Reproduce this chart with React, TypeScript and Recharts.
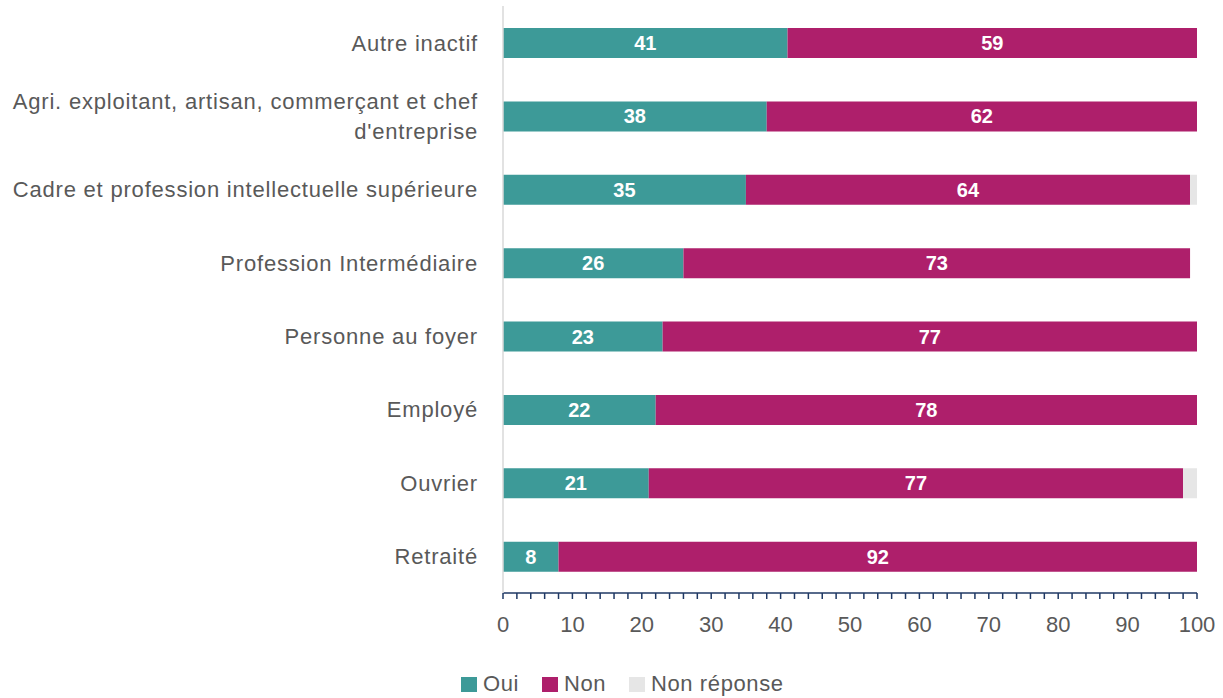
import React from 'react';
import { BarChart, Bar, XAxis, YAxis, Legend, LabelList } from 'recharts';

const categories = [
  'Autre inactif',
  "Agri. exploitant, artisan, commerçant et chef d'entreprise",
  'Cadre et profession intellectuelle supérieure',
  'Profession Intermédiaire',
  'Personne au foyer',
  'Employé',
  'Ouvrier',
  'Retraité',
];
const oui = [41, 38, 35, 26, 23, 22, 21, 8];
const non = [59, 62, 64, 73, 77, 78, 77, 92];
const nonReponse = [0, 0, 1, 0, 0, 0, 2, 0];
const xTicks = Array.from({ length: 51 }, (_, i) => i * 2);

const seriesNames = ['Oui', 'Non', 'Non réponse'];
const seriesColors = ['#3D9A98', '#AE1F6B', '#E6E6E6'];

const data = categories.map((name, i) => ({
  name,
  oui: oui[i],
  non: non[i],
  nr: nonReponse[i],
}));

const FONT = '"Liberation Sans", Arial, sans-serif';

const wrap = (s: string, max = 48) => {
  if (s.length <= max) return [s];
  const cut = s.lastIndexOf(' ', max);
  return [s.slice(0, cut), s.slice(cut + 1)];
};

const CategoryTick = (props: any) => {
  const { x, y, payload } = props;
  const lines = wrap(payload.value);
  const start = -((lines.length - 1) * 30) / 2;
  return (
    <text
      x={x - 25}
      y={y}
      textAnchor="end"
      fill="#595959"
      fontSize={22}
      fontFamily={FONT}
      letterSpacing={0.8}
    >
      {lines.map((l, i) => (
        <tspan key={i} x={x - 25} y={y + start + i * 30} dy="0.36em">
          {l}
        </tspan>
      ))}
    </text>
  );
};

const LegendContent = () => (
  <div style={{ position: 'relative', height: 30, fontFamily: FONT }}>
    {seriesNames.map((n, i) => {
      const left = [461, 542, 629][i];
      return (
        <div
          key={n}
          style={{
            position: 'absolute',
            left,
            top: 8,
            display: 'flex',
            alignItems: 'center',
            fontSize: 22,
            color: '#595959',
            letterSpacing: 0.6,
            lineHeight: '16px',
          }}
        >
          <span style={{ width: 16, height: 15, background: seriesColors[i], marginRight: 6, display: 'inline-block' }} />
          {n}
        </div>
      );
    })}
  </div>
);

const segLabel = (v: any) => (v ? v : '');

export default function App() {
  return (
    <div style={{ position: 'absolute', left: 0, top: 0, background: '#fff' }}>
      <BarChart
        width={1223}
        height={698}
        data={data}
        layout="vertical"
        barSize={30}
        margin={{ top: 6, right: 26, bottom: 0, left: 0 }}
      >
        <XAxis
          type="number"
          domain={[0, 100]}
          ticks={xTicks}
          interval={0}
          height={75}
          tickFormatter={(v: number) => (v % 10 === 0 ? String(v) : '')}
          axisLine={{ stroke: '#1F3864', strokeWidth: 1.5 }}
          tickLine={{ stroke: '#1F3864', strokeWidth: 1.5 }}
          tickSize={6}
          tickMargin={17}
          tick={{ fill: '#595959', fontSize: 22, fontFamily: FONT }}
        />
        <YAxis
          type="category"
          dataKey="name"
          width={503}
          interval={0}
          axisLine={{ stroke: '#D9D9D9', strokeWidth: 1.5 }}
          tickLine={false}
          tickSize={0}
          tickMargin={0}
          tick={<CategoryTick />}
        />
        <Legend
          verticalAlign="bottom"
          content={<LegendContent />}
          wrapperStyle={{ height: 30, left: 0, width: 1223, bottom: 0 }}
        />
        <Bar dataKey="oui" name="Oui" stackId="a" fill={seriesColors[0]} isAnimationActive={false}>
          <LabelList dataKey="oui" position="center" fill="#fff" fontSize={20} fontWeight="bold" fontFamily={FONT} formatter={segLabel} />
        </Bar>
        <Bar dataKey="non" name="Non" stackId="a" fill={seriesColors[1]} isAnimationActive={false}>
          <LabelList dataKey="non" position="center" fill="#fff" fontSize={20} fontWeight="bold" fontFamily={FONT} formatter={segLabel} />
        </Bar>
        <Bar dataKey="nr" name="Non réponse" stackId="a" fill={seriesColors[2]} isAnimationActive={false} />
      </BarChart>
    </div>
  );
}
